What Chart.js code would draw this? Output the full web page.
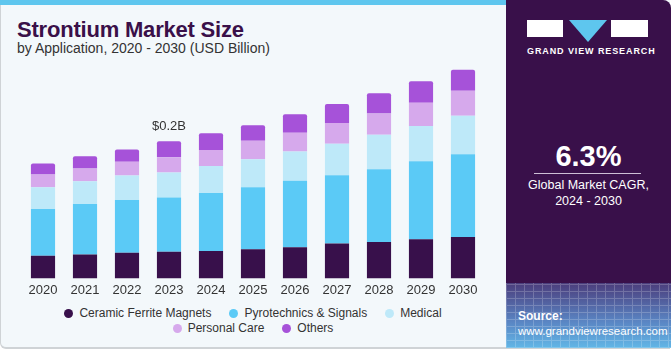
<!DOCTYPE html>
<html>
<head>
<meta charset="utf-8">
<script src="https://cdn.jsdelivr.net/npm/chart.js@4/dist/chart.umd.min.js"></script>
<style>
  html, body { margin:0; padding:0; }
  body { width:671px; height:350px; overflow:hidden; font-family:"Liberation Sans", Arial, sans-serif; position:relative; background:#fff; }
  #frame { position:absolute; left:0; top:0; width:669px; height:347px; background:#F3F8FB; border-left:1px solid #cfd3d6; border-bottom:2px solid #cfd3d6; border-bottom-left-radius:6px; }
  #stripe { position:absolute; left:0; top:0; width:506px; height:5px; background:#5EC6EE; }
  #title { position:absolute; left:17px; top:17px; font-size:22px; font-weight:bold; color:#3A1049; letter-spacing:-0.2px; }
  #subtitle { position:absolute; left:17px; top:40px; font-size:14px; color:#333; }
  #chartbox { position:absolute; left:0; top:60px; width:506px; height:245px; }
  #legend { position:absolute; left:0; width:506px; top:306px; font-size:12px; color:#333; text-align:center; line-height:15px; }
  #legend .row { white-space:nowrap; }
  #legend .it { display:inline-block; margin:0 9px; }
  #legend .dot { display:inline-block; width:9px; height:9px; border-radius:50%; margin-right:6px; vertical-align:-1px; }
  #panel { position:absolute; left:506px; top:0; width:165px; height:348px; background:#39104A; border-top-right-radius:8px; overflow:hidden; }
  #grad { position:absolute; left:0; top:283px; width:165px; height:65px; background:linear-gradient(#4b3d7c, #5a86c4 60%, #62b6e6); }
  #grid { position:absolute; left:0; top:283px; width:165px; height:65px; opacity:0.2;
    background-image: repeating-linear-gradient(90deg, #fff 0 1px, transparent 1px 9px), repeating-linear-gradient(0deg, #fff 0 1px, transparent 1px 7px); }
  .logo { position:absolute; background:#fff; }
  #tri { position:absolute; left:63px; top:20px; width:0; height:0; border-left:19px solid transparent; border-right:19px solid transparent; border-top:22px solid #5EC6EE; }
  #gvr { position:absolute; left:21px; top:46px; width:122px; text-align:center; color:#fff; font-size:9px; font-weight:bold; letter-spacing:0.9px; white-space:nowrap; }
  #cagr { position:absolute; left:0; width:165px; top:140px; text-align:center; color:#fff; font-size:29px; font-weight:bold; }
  #line { position:absolute; left:28px; top:173px; width:107px; height:1px; background:#cdbfd6; }
  #cagrt { position:absolute; left:0; width:165px; top:177px; text-align:center; color:#fff; font-size:12.5px; line-height:16px; }
  #src { position:absolute; left:12px; top:309px; color:#fff; font-size:12px; font-weight:bold; }
  #url { position:absolute; left:12px; top:325px; color:#fff; font-size:11.5px; }
</style>
</head>
<body>
<div id="frame"></div>
<div id="stripe"></div>
<div id="title">Strontium Market Size</div>
<div id="subtitle">by Application, 2020 - 2030 (USD Billion)</div>
<div id="chartbox"><canvas id="c" width="506" height="245"></canvas></div>
<div id="legend"></div>
<div id="panel">
  <div id="grad"></div>
  <div id="grid"></div>
  <div class="logo" style="left:21px;top:20px;width:36px;height:17px;"></div>
  <div id="tri"></div>
  <div class="logo" style="left:105px;top:20px;width:37px;height:17px;"></div>
  <div id="gvr">GRAND VIEW RESEARCH</div>
  <div id="cagr">6.3%</div>
  <div id="line"></div>
  <div id="cagrt">Global Market CAGR,<br>2024 - 2030</div>
  <div id="src">Source:</div>
  <div id="url">www.grandviewresearch.com</div>
</div>
<script>
const years = ["2020","2021","2022","2023","2024","2025","2026","2027","2028","2029","2030"];
const ceramicFerriteMagnets = [0.0331,0.0350,0.0375,0.0390,0.0399,0.0423,0.0453,0.0507,0.0530,0.0569,0.0603];
const pyrotechnicsSignals   = [0.0680,0.0734,0.0768,0.0788,0.0847,0.0905,0.0968,0.0997,0.1061,0.1139,0.1207];
const medical               = [0.0317,0.0331,0.0356,0.0365,0.0390,0.0409,0.0429,0.0457,0.0501,0.0511,0.0559];
const personalCare          = [0.0185,0.0185,0.0199,0.0223,0.0234,0.0267,0.0272,0.0302,0.0312,0.0340,0.0365];
const others                = [0.0161,0.0180,0.0181,0.0234,0.0244,0.0229,0.0269,0.0277,0.0292,0.0312,0.0307];
const seriesNames = ["Ceramic Ferrite Magnets","Pyrotechnics & Signals","Medical","Personal Care","Others"];
const seriesColors = ["#38104B","#5BCAF6","#BEE9F9","#D6A9EC","#A652D9"];
const annotationYear = "2023";
const annotationText = "$0.2B";

const seriesData = [ceramicFerriteMagnets, pyrotechnicsSignals, medical, personalCare, others];

// HTML legend
const legendRows = [[0,1,2],[3,4]];
const lg = document.getElementById('legend');
legendRows.forEach(r => {
  const row = document.createElement('div'); row.className = 'row';
  r.forEach(i => {
    const it = document.createElement('span'); it.className = 'it';
    it.innerHTML = '<span class="dot" style="background:' + seriesColors[i] + '"></span>' + seriesNames[i].replace('&','&amp;');
    row.appendChild(it);
  });
  lg.appendChild(row);
});

const annotate = {
  id: 'annotate',
  afterDatasetsDraw(chart) {
    const idx = years.indexOf(annotationYear);
    const meta = chart.getDatasetMeta(seriesData.length - 1);
    const el = meta.data[idx];
    const ctx = chart.ctx;
    ctx.save();
    ctx.font = '13px "Liberation Sans", Arial, sans-serif';
    ctx.fillStyle = '#333';
    ctx.textAlign = 'center';
    ctx.textBaseline = 'bottom';
    ctx.fillText(annotationText, el.x, el.y - 8);
    ctx.restore();
  }
};

new Chart(document.getElementById('c'), {
  type: 'bar',
  data: {
    labels: years,
    datasets: seriesData.map((d, i) => ({
      label: seriesNames[i],
      data: d,
      backgroundColor: seriesColors[i],
      borderWidth: 0,
      borderRadius: i === seriesData.length - 1 ? {topLeft:2, topRight:2} : 0,
      borderSkipped: false,
      barPercentage: 0.575,
      categoryPercentage: 1
    }))
  },
  options: {
    responsive: false,
    animation: false,
    layout: { padding: { left: 22, right: 22, top: 0, bottom: 3 } },
    plugins: { legend: { display: false }, tooltip: { enabled: false } },
    scales: {
      x: {
        stacked: true,
        grid: { display: false, drawTicks: false },
        border: { display: false },
        ticks: { color: '#333', font: { size: 13, family: '"Liberation Sans", Arial, sans-serif' }, padding: 4, maxRotation: 0 }
      },
      y: {
        stacked: true,
        display: false,
        min: 0,
        max: 0.3182
      }
    }
  },
  plugins: [annotate]
});
</script>
</body>
</html>
